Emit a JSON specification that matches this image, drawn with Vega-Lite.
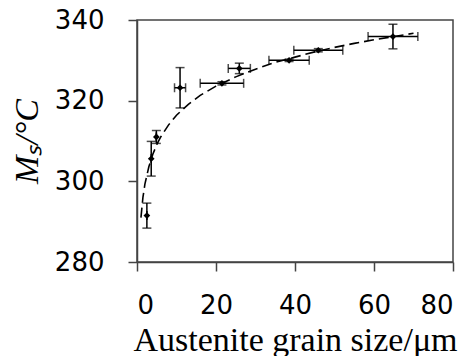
{
  "$schema": "https://vega.github.io/schema/vega-lite/v6.json",
  "autosize": "none",
  "width": 316,
  "height": 242,
  "padding": {"left": 137, "top": 20, "right": 18, "bottom": 94},
  "background": "white",
  "config": {
    "view": {"stroke": "#444", "strokeWidth": 1.5},
    "axis": {
      "grid": false,
      "domainColor": "#444",
      "domainWidth": 1.5,
      "tickColor": "#444",
      "tickWidth": 1.5,
      "tickSize": 9,
      "labelFont": "DejaVu Sans",
      "labelFontSize": 26,
      "labelColor": "black",
      "titleFont": "Liberation Serif",
      "titleFontSize": 34,
      "titleFontWeight": "normal",
      "titleColor": "black"
    }
  },
  "datasets": {
    "pts": [
      {"x": 2.5, "y": 291.5, "xlo": 2.5, "xhi": 2.5, "ylo": 288.4, "yhi": 294.6},
      {"x": 3.6, "y": 305.6, "xlo": 3.6, "xhi": 3.6, "ylo": 301.3, "yhi": 309.9},
      {"x": 4.9, "y": 311.0, "xlo": 4.9, "xhi": 4.9, "ylo": 309.4, "yhi": 312.6},
      {"x": 10.9, "y": 323.2, "xlo": 9.5, "xhi": 12.3, "ylo": 318.2, "yhi": 328.2},
      {"x": 21.5, "y": 324.3, "xlo": 16.0, "xhi": 27.0, "ylo": 323.9, "yhi": 324.7},
      {"x": 25.9, "y": 328.0, "xlo": 23.1, "xhi": 28.7, "ylo": 326.7, "yhi": 329.3},
      {"x": 38.5, "y": 330.0, "xlo": 33.4, "xhi": 43.6, "ylo": 329.7, "yhi": 330.3},
      {"x": 45.9, "y": 332.5, "xlo": 39.7, "xhi": 52.1, "ylo": 332.1, "yhi": 332.9},
      {"x": 64.8, "y": 335.9, "xlo": 58.5, "xhi": 71.1, "ylo": 332.85, "yhi": 338.95}
    ],
    "fit": [
      {"x": 1, "y": 291.0},
      {"x": 1.5, "y": 296.0},
      {"x": 2, "y": 299.3},
      {"x": 3, "y": 303.6},
      {"x": 4, "y": 306.7},
      {"x": 5, "y": 309.1},
      {"x": 6, "y": 311.0},
      {"x": 8, "y": 314.0},
      {"x": 10, "y": 316.4},
      {"x": 13, "y": 319.1},
      {"x": 16, "y": 321.3},
      {"x": 20, "y": 323.6},
      {"x": 25, "y": 325.9},
      {"x": 30, "y": 327.8},
      {"x": 35, "y": 329.5},
      {"x": 40, "y": 330.8},
      {"x": 45, "y": 332.1},
      {"x": 50, "y": 333.2},
      {"x": 55, "y": 334.2},
      {"x": 60, "y": 335.1},
      {"x": 65, "y": 335.9},
      {"x": 70, "y": 336.7}
    ]
  },
  "encoding": {
    "x": {"type": "quantitative"},
    "y": {"type": "quantitative"}
  },
  "layer": [
    {
      "data": {"name": "fit"},
      "mark": {"type": "line", "color": "black", "strokeWidth": 1.6, "strokeDash": [10, 5]},
      "encoding": {
        "x": {"field": "x", "type": "quantitative",
              "scale": {"domain": [0, 80], "nice": false},
              "axis": {"values": [0, 20, 40, 60, 80], "labelPadding": 21, "titlePadding": 5, "title": "Austenite grain size/μm"}},
        "y": {"field": "y", "type": "quantitative",
              "scale": {"domain": [280, 340], "nice": false, "zero": false},
              "axis": {"values": [280, 300, 320, 340], "labelPadding": 24, "titlePadding": 10, "title": "Mₛ/°C", "titleFontStyle": "italic"}}
      }
    },
    {
      "data": {"name": "pts"},
      "mark": {"type": "rule", "color": "black", "strokeWidth": 1.5},
      "encoding": {
        "x": {"field": "xlo", "type": "quantitative"},
        "x2": {"field": "xhi"},
        "y": {"field": "y", "type": "quantitative"}
      }
    },
    {
      "data": {"name": "pts"},
      "mark": {"type": "rule", "color": "black", "strokeWidth": 1.5},
      "encoding": {
        "x": {"field": "x", "type": "quantitative"},
        "y": {"field": "ylo", "type": "quantitative"},
        "y2": {"field": "yhi"}
      }
    },
    {
      "data": {"name": "pts"},
      "mark": {"type": "tick", "orient": "vertical", "color": "black", "size": 9, "thickness": 1.5},
      "encoding": {
        "x": {"field": "xlo", "type": "quantitative"},
        "y": {"field": "y", "type": "quantitative"}
      }
    },
    {
      "data": {"name": "pts"},
      "mark": {"type": "tick", "orient": "vertical", "color": "black", "size": 9, "thickness": 1.5},
      "encoding": {
        "x": {"field": "xhi", "type": "quantitative"},
        "y": {"field": "y", "type": "quantitative"}
      }
    },
    {
      "data": {"name": "pts"},
      "mark": {"type": "tick", "orient": "horizontal", "color": "black", "size": 9, "thickness": 1.5},
      "encoding": {
        "x": {"field": "x", "type": "quantitative"},
        "y": {"field": "ylo", "type": "quantitative"}
      }
    },
    {
      "data": {"name": "pts"},
      "mark": {"type": "tick", "orient": "horizontal", "color": "black", "size": 9, "thickness": 1.5},
      "encoding": {
        "x": {"field": "x", "type": "quantitative"},
        "y": {"field": "yhi", "type": "quantitative"}
      }
    },
    {
      "data": {"name": "pts"},
      "mark": {"type": "point", "shape": "diamond", "filled": true, "color": "black", "size": 45, "opacity": 1},
      "encoding": {
        "x": {"field": "x", "type": "quantitative"},
        "y": {"field": "y", "type": "quantitative"}
      }
    }
  ]
}
